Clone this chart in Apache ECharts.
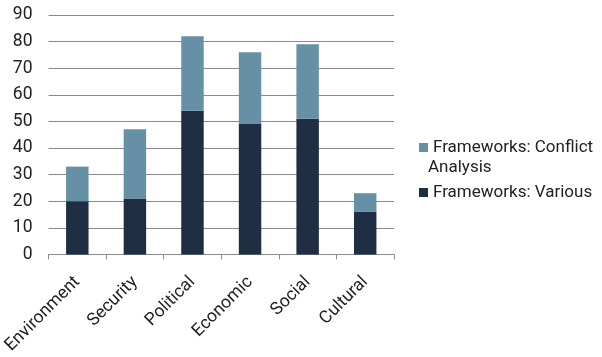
<!DOCTYPE html>
<html><head><meta charset="utf-8">
<script src="https://cdn.jsdelivr.net/npm/echarts@6/dist/echarts.min.js"></script>
<style>html,body{margin:0;padding:0;background:#fff}#c{width:602px;height:357px}</style>
</head><body><div id="c"></div>
<script>
const categories = ['Environment','Security','Political','Economic','Social','Cultural'];
const various = [20, 21, 54, 49, 51, 16];
const conflictAnalysis = [13, 26, 28, 27, 28, 7];
const yTicks = [0, 10, 20, 30, 40, 50, 60, 70, 80, 90];
const seriesNames = ['Frameworks: Various', 'Frameworks: Conflict Analysis'];

const chart = echarts.init(document.getElementById('c'));
const font = 'Roboto';
const txt = '#222';
chart.setOption({
  animation: false,
  textStyle: {fontFamily: font},
  grid: {left: 45, right: 208, top: 15, bottom: 99.5, containLabel: false},
  legend: {
    orient: 'vertical', left: 414, top: 134, itemWidth: 9, itemHeight: 9, itemGap: 28,
    icon: 'rect',
    textStyle: {fontFamily: font, fontSize: 17, color: txt},
    formatter: n => n === seriesNames[1] ? 'Frameworks: Conflict' : n,
    data: [seriesNames[1], seriesNames[0]]
  },
  graphic: [{type: 'text', left: 428, top: 159, style: {text: 'Analysis', fontFamily: font, fontSize: 17, fill: txt}}],
  xAxis: {
    type: 'category', data: categories,
    axisLine: {lineStyle: {color: '#8a8a8a'}},
    axisTick: {show: true, length: 5, lineStyle: {color: '#8a8a8a'}},
    axisLabel: {rotate: 45, fontFamily: font, fontSize: 17.5, color: txt, margin: 25}
  },
  yAxis: {
    type: 'value', min: yTicks[0], max: yTicks[yTicks.length-1], interval: 10,
    axisLine: {show: false}, axisTick: {show: false},
    splitLine: {lineStyle: {color: '#8a8a8a'}},
    axisLabel: {fontFamily: font, fontSize: 17.5, color: txt, margin: 16}
  },
  series: [
    {name: seriesNames[0], type: 'bar', stack: 's', data: various, barWidth: '39%', itemStyle: {color: '#1f2e42'}},
    {name: seriesNames[1], type: 'bar', stack: 's', data: conflictAnalysis, barWidth: '39%', itemStyle: {color: '#6590a5'}}
  ]
});
</script></body></html>
